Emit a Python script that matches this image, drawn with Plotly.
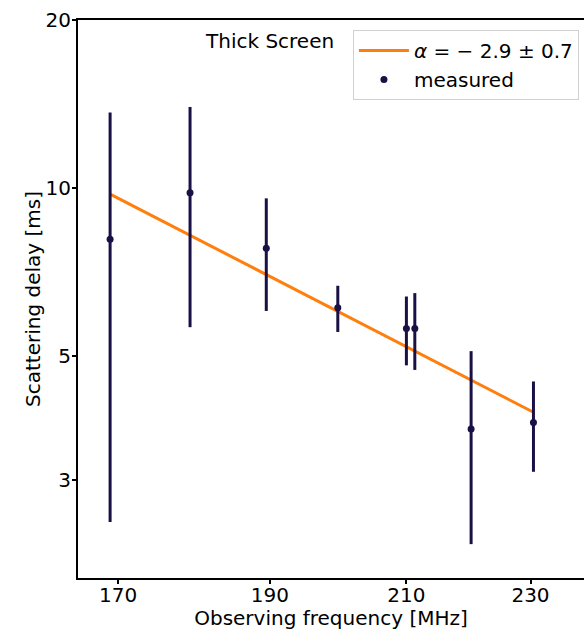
import numpy as np
import plotly.graph_objects as go

# Observed scattering delays per frequency channel
freq_mhz = [169.0, 179.2, 189.5, 199.7, 210.0, 211.3, 220.2, 230.5]
delay_ms = [8.09, 9.80, 7.80, 6.10, 5.60, 5.60, 3.70, 3.80]
delay_err = [5.57, 4.17, 1.78, 0.58, 0.79, 0.88, 1.40, 0.70]

# Power-law fit: tau = tau_ref * (f / f_ref) ** alpha
alpha = -2.9
alpha_err = 0.7
tau_ref = 9.75
f_ref = 169.0
fit_freq = np.array([freq_mhz[0], freq_mhz[-1]])
fit_delay = tau_ref * (fit_freq / f_ref) ** alpha

x_ticks = [170, 190, 210, 230]
y_ticks = [3, 5, 10, 20]

navy = "#1a1045"
orange = "#ff7f0e"
font = dict(family="DejaVu Sans", size=20, color="black")

fig = go.Figure()
fig.add_trace(go.Scatter(
    x=fit_freq, y=fit_delay, mode="lines",
    line=dict(color=orange, width=3),
    name=f"<i>α</i> = − {abs(alpha):.1f} ± {alpha_err:.1f}",
))
fig.add_trace(go.Scatter(
    x=freq_mhz, y=delay_ms, mode="markers",
    marker=dict(color=navy, size=7),
    error_y=dict(type="data", array=delay_err, color=navy, thickness=3, width=0),
    name="measured",
))

fig.add_annotation(
    x=0.248, y=0.963, xref="paper", yref="paper",
    xanchor="left", yanchor="middle", showarrow=False,
    text="Thick Screen", font=font,
)

fig.update_layout(
    width=584, height=630,
    margin=dict(l=78, r=0, t=20, b=52),
    paper_bgcolor="white", plot_bgcolor="white",
    font=font,
    showlegend=True,
    legend=dict(
        x=0.99, y=0.982, xanchor="right", yanchor="top",
        bgcolor="white", bordercolor="#d0d0d0", borderwidth=1,
        font=font, tracegroupgap=0, itemwidth=50,
    ),
)
fig.update_xaxes(
    type="log", range=[np.log10(165.07), np.log10(239.2)],
    tickvals=x_ticks, ticktext=[str(v) for v in x_ticks],
    showline=True, linecolor="black", linewidth=2, mirror=True,
    ticks="outside", ticklen=4, tickwidth=1.5, tickcolor="black",
    ticklabelstandoff=-6,
    showgrid=False, zeroline=False,
    title=dict(text="Observing frequency [MHz]", font=font, standoff=2),
)
fig.update_yaxes(
    type="log", range=[np.log10(2), np.log10(20)],
    tickvals=y_ticks, ticktext=[str(v) for v in y_ticks],
    showline=True, linecolor="black", linewidth=2, mirror=False,
    ticks="outside", ticklen=4, tickwidth=1.5, tickcolor="black",
    ticklabelstandoff=-3,
    showgrid=False, zeroline=False,
    title=dict(text="Scattering delay [ms]", font=font, standoff=0),
)

fig.write_html("out.html")
